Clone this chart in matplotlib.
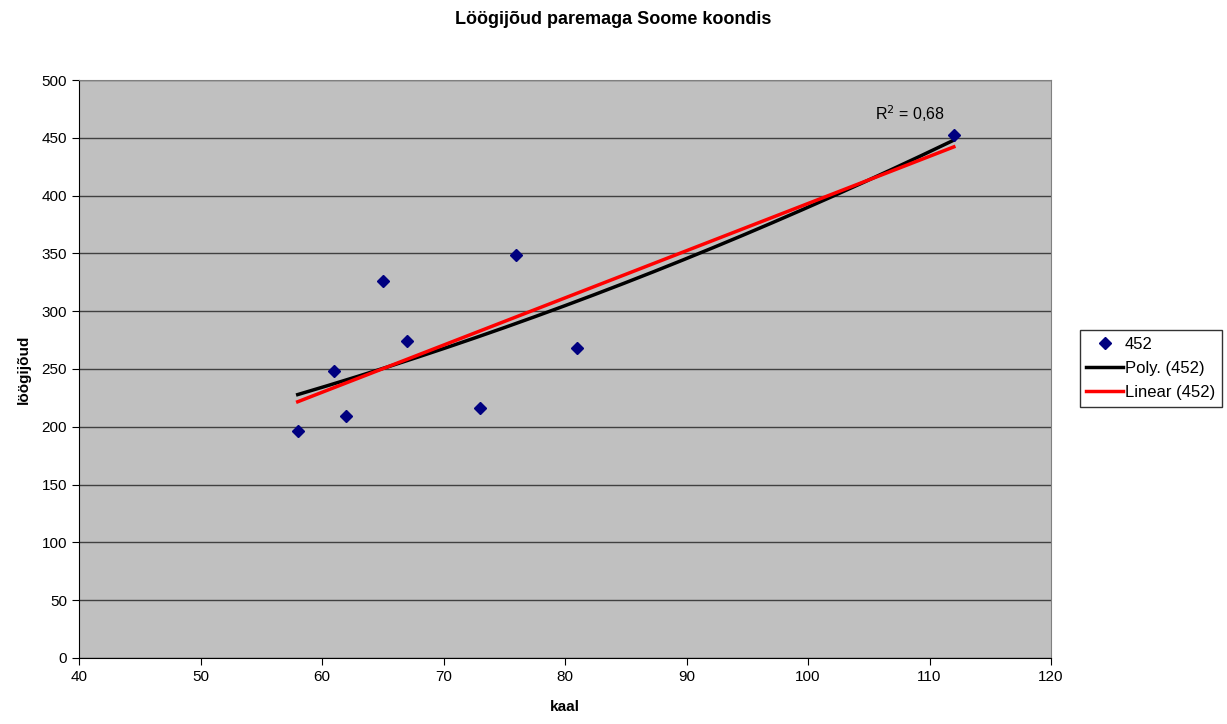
import numpy as np
import matplotlib.pyplot as plt

plt.rcParams["font.family"] = ["Liberation Sans", "DejaVu Sans"]

# body weight (kg) and punch force of the Finnish team, right hand
kaal = [58, 61, 62, 65, 67, 73, 76, 81, 112]
loogijoud = [196, 248, 209, 326, 274, 216, 349, 268, 452]
r2_text = "R$^2$ = 0,68"

x = np.array(kaal, dtype=float)
y = np.array(loogijoud, dtype=float)
xs = np.linspace(x.min(), x.max(), 200)
poly = np.polyval(np.polyfit(x, y, 2), xs)
lin = np.polyval(np.polyfit(x, y, 1), xs)

fig = plt.figure(figsize=(12.27, 7.24), dpi=100)
ax = fig.add_axes([0.0644, 0.0912, 0.7922, 0.7983])
ax.set_facecolor("#C0C0C0")

ax.plot(x, y, "D", color="#000080", markersize=6, label="452", zorder=4)
ax.plot(xs, poly, color="black", linewidth=2.5, label="Poly. (452)", zorder=3)
ax.plot(xs, lin, color="#FF0000", linewidth=2.5, label="Linear (452)", zorder=3)

ax.set_xlim(40, 120)
ax.set_ylim(0, 500)
ax.set_xticks(range(40, 121, 10))
ax.set_yticks(range(0, 501, 50))
ax.yaxis.grid(True, color="#404040", linewidth=1)
ax.set_axisbelow(True)
ax.tick_params(labelsize=11, direction="out", length=5)
for side in ["top", "right"]:
    ax.spines[side].set_color("#808080")
for side in ["left", "bottom"]:
    ax.spines[side].set_color("black")

ax.set_xlabel("kaal", fontsize=11, fontweight="bold", labelpad=12)
ax.set_ylabel("löögijõud", fontsize=11, fontweight="bold", labelpad=8)
fig.suptitle("Löögijõud paremaga Soome koondis", fontsize=13, fontweight="bold", y=0.985)

ax.text(105.5, 462, r2_text, fontsize=11.5, va="bottom")

leg = fig.legend(loc="upper left", bbox_to_anchor=(0.880, 0.544), fontsize=12,
                 frameon=True, fancybox=False, edgecolor="black", borderpad=0.4,
                 borderaxespad=0, handlelength=2.2, handletextpad=0.1,
                 labelspacing=0.55)
leg.get_frame().set_linewidth(1)

fig.savefig("out.png", dpi=100)
